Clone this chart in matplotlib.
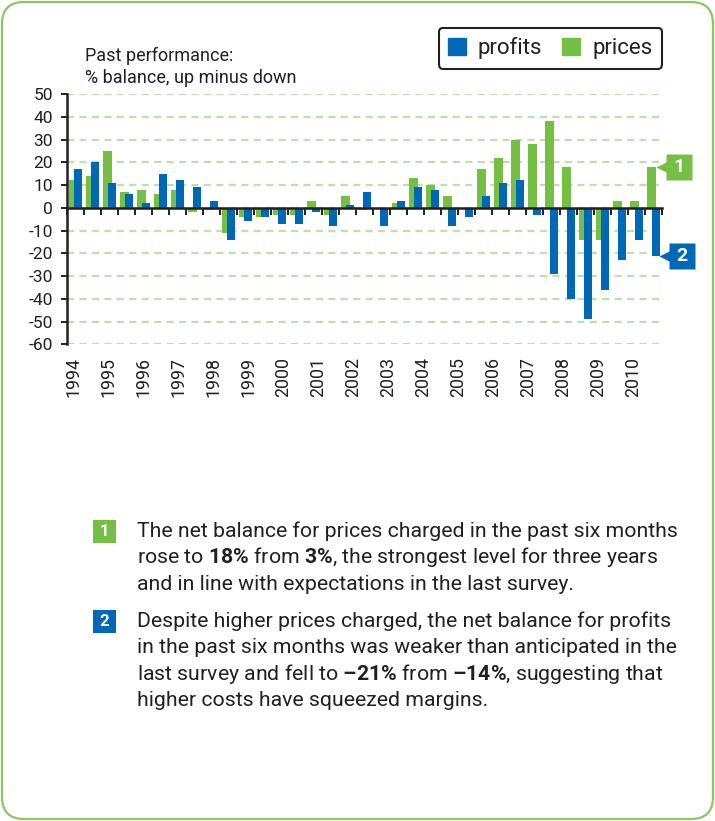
import numpy as np
import matplotlib
matplotlib.use('Agg')
import matplotlib.pyplot as plt
from matplotlib.patches import FancyBboxPatch, Patch, Rectangle
from matplotlib.transforms import IdentityTransform, blended_transform_factory

# ---------------- data ----------------
years = [str(y) for y in range(1994, 2011)]
prices = [12, 14, 25, 7, 8, 6, 8, -2, -1, -11, -4, -4, -3, -3, 3, -3, 5, -1,
          0, 2, 13, 10, 5, 0, 17, 22, 30, 28, 38, 18, -14, -14, 3, 3, 18]
profits = [17, 20, 11, 6, 2, 15, 12, 9, 3, -14, -6, -4, -7, -7, -2, -8, 1, 7,
           -8, 3, 9, 8, -8, -4, 5, 11, 12, -3, -29, -40, -49, -36, -23, -14, -21]
series_names = ['profits', 'prices']
yticks = list(range(-60, 51, 10))

BLUE = '#0068b4'
GREEN = '#74bf44'
GRID = '#bfe0a8'
DARK = '#231f20'
BORDER = '#8cc764'

plt.rcParams['font.family'] = ['Roboto', 'DejaVu Sans']
plt.rcParams['axes.unicode_minus'] = False
plt.rcParams['mathtext.fontset'] = 'custom'
plt.rcParams['mathtext.rm'] = 'Roboto'
plt.rcParams['mathtext.bf'] = 'Roboto:bold'

W, H = 715, 821
fig = plt.figure(figsize=(W / 100, H / 100), dpi=100)


def fx(px):
    return px / W


def fy(py):
    return 1 - py / H


# outer rounded border
fig.add_artist(FancyBboxPatch((2, 2), W - 4, H - 4,
                              boxstyle='round,pad=0,rounding_size=22',
                              transform=IdentityTransform(), fill=False,
                              ec=BORDER, lw=1.6))

ax_l, ax_r, ax_t, ax_b = 67.3, 662.3, 94.0, 344.3
ax = fig.add_axes([fx(ax_l), fy(ax_b), (ax_r - ax_l) / W, (ax_b - ax_t) / H])

x = np.arange(len(prices))
ax.bar(x - 0.135, prices, width=0.53, color=GREEN, zorder=1.5)
ax.bar(x + 0.13, profits, width=0.47, color=BLUE, zorder=1.8)

ax.set_xlim(-0.5, len(prices) - 0.5)
ax.set_ylim(-60, 50)
ax.set_yticks(yticks)
ax.set_yticklabels([str(v) for v in yticks])
ax.set_axisbelow(True)
ax.grid(axis='y', color=GRID, lw=1.6, linestyle=(0, (3.2, 2.4)))
ax.grid(axis='x', visible=False)

for s in ['top', 'right']:
    ax.spines[s].set_visible(False)
ax.spines['left'].set_color(DARK)
ax.spines['left'].set_linewidth(1.8)
ax.spines['bottom'].set_position(('data', 0))
ax.spines['bottom'].set_color(DARK)
ax.spines['bottom'].set_linewidth(1.8)

ax.set_xticks(np.arange(-0.5, len(prices) + 0.5, 1))
ax.set_xticklabels([])
ax.tick_params(axis='x', direction='out', length=5, width=1.4, color=DARK)
ax.tick_params(axis='y', direction='out', length=4.5, width=1.4, color=DARK,
               labelsize=12.5, pad=6, labelcolor=DARK)

# year labels (evenly spread under the axis)
label_pos = np.arange(len(years)) * (35 / 17) - 0.15
for p, yl in zip(label_pos, years):
    ax.text(p, -0.05, yl, transform=ax.get_xaxis_transform(), rotation=90,
            ha='center', va='top', fontsize=12.8, color=DARK)

# title
fig.text(fx(85), fy(47), "Past performance:\n% balance, up minus down",
         va='top', ha='left', fontsize=13, color=DARK, linespacing=1.25)

# legend
leg = fig.legend(handles=[Patch(color=BLUE, label=series_names[0]),
                          Patch(color=GREEN, label=series_names[1])],
                 loc='upper right', bbox_to_anchor=(fx(662), fy(28)),
                 borderaxespad=0, ncol=2, fontsize=16, handlelength=0.8,
                 handleheight=0.8, handletextpad=0.55, columnspacing=0.9,
                 borderpad=0.42, frameon=True, fancybox=True,
                 edgecolor=DARK, framealpha=1)
leg.get_frame().set_linewidth(1.5)
for t in leg.get_texts():
    t.set_color(DARK)

# tags on last bars
trans = blended_transform_factory(ax.transAxes, ax.transData)
for val, col, lab, xt, xb in [(prices[-1], GREEN, '1', 0.999, 1.0276),
                              (profits[-1], BLUE, '2', 1.0037, 1.0331)]:
    ax.plot([xt], [val], marker='<', ms=8, color=col, mec='none',
            transform=trans, clip_on=False, zorder=5)
    ax.plot([xb], [val], marker='s', ms=19, color=col, mec='none',
            transform=trans, clip_on=False, zorder=5)
    ax.text(xb, val, lab, transform=trans, ha='center', va='center',
            color='white', fontsize=14, fontweight='bold', zorder=6,
            clip_on=False)

# notes
EN = '\u2013'
notes = [
    (GREEN, '1', 531.5, 536.7, [
        "The net balance for prices charged in the past six months",
        "rose to $\\mathbf{18\\%}$ from $\\mathbf{3\\%}$, the strongest level for three years",
        "and in line with expectations in the last survey."]),
    (BLUE, '2', 621.5, 626.7, [
        "Despite higher prices charged, the net balance for profits",
        "in the past six months was weaker than anticipated in the",
        "last survey and fell to $\\mathbf{" + EN + "21\\%}$ from $\\mathbf{" + EN
        + "14\\%}$, suggesting that",
        "higher costs have squeezed margins."]),
]
for col, lab, ybox, ybase, lines in notes:
    fig.add_artist(Rectangle((92.5, H - (ybox + 11.5)), 23, 23,
                             transform=IdentityTransform(), fc=col, ec='none'))
    fig.text(fx(104), fy(ybox), lab, ha='center', va='center', color='white',
             fontsize=12, fontweight='bold')
    for i, ln in enumerate(lines):
        fig.text(fx(137), fy(ybase + i * 26.5), ln, ha='left', va='baseline',
                 fontsize=15.3, color=DARK)

fig.savefig('out.png', dpi=100)
